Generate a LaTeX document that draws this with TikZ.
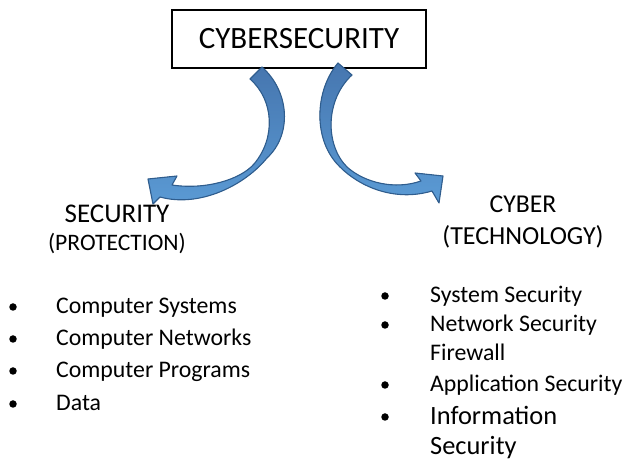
\documentclass[tikz,border=0pt]{standalone}
\usepackage{fontspec}
\setmainfont{Carlito}
\definecolor{arrowline}{HTML}{2F5D8E}
\definecolor{arrowtop}{HTML}{4676AF}
\definecolor{arrowbot}{HTML}{5B9BD5}
\tikzset{
  curvearrow/.style={draw=arrowline, line width=1.1pt, line join=round,
    top color=arrowtop, bottom color=arrowbot, shading angle=0},
  dot/.style={circle, fill=black, inner sep=0pt, minimum size=7.5pt},
  item/.style={anchor=base west, inner sep=0pt, font=\fontsize{23.8}{24}\selectfont}
}
\begin{document}
\begin{tikzpicture}[x=1pt, y=-1pt]
\useasboundingbox (0,0) rectangle (625,473);
% title
\node[draw, line width=1.3pt, minimum width=254pt, minimum height=58pt,
  inner sep=0pt, font=\fontsize{31}{31}\selectfont] (cyber) at (299,39) {CYBERSECURITY};%
% curved arrows
\filldraw[curvearrow] (250,79) -- (262,67) .. controls (290,92) and (292,135) .. (267,158)
  .. controls (245,185) and (200,208) .. (160,197) -- (153,204) -- (148,179) -- (177,176)
  -- (172,185) .. controls (205,190) and (240,180) .. (254,164)
  .. controls (276,138) and (274,100) .. (250,79) -- cycle;%
\filldraw[curvearrow] (352,75) -- (338,63) .. controls (315,90) and (312,140) .. (340,167)
  .. controls (360,187) and (395,202) .. (432,191) -- (439,203) -- (443,176) -- (415,173)
  -- (421,181) .. controls (395,190) and (365,183) .. (347,167)
  .. controls (325,145) and (325,100) .. (352,75) -- cycle;%
% left side
\node[font=\fontsize{27}{27}\selectfont] (security) at (117,214) {SECURITY};%
\node[font=\fontsize{23.6}{24}\selectfont] (protection) at (117,244) {(PROTECTION)};%
\foreach \txt/\y [count=\i] in {Computer Systems/314, Computer Networks/346,
    Computer Programs/378, Data/411}{
  \node[dot] (ldot\i) at (13,\y-7) {};
  \node[item] (litem\i) at (56,\y) {\txt};
}
% right side
\node[font=\fontsize{25.7}{26}\selectfont] (cyb) at (523,204) {CYBER};%
\node[font=\fontsize{26}{26}\selectfont] (technology) at (523,237) {(TECHNOLOGY)};%
\node[item] (ritem1) at (430,303) {System Security};%
\node[item] (ritem2) at (430,332) {Network Security};%
\node[item] (ritem3) at (430,361) {Firewall};%
\node[item] (ritem4) at (430,392) {Application Security};%
\node[item, font=\fontsize{26.4}{27}\selectfont] (ritem5) at (430,425) {Information};%
\node[item, font=\fontsize{26.4}{27}\selectfont] (ritem6) at (430,455) {Security};%
\foreach \y [count=\i] in {296,325,385,417}
  \node[dot] (rdot\i) at (385,\y) {};
\end{tikzpicture}
\end{document}
